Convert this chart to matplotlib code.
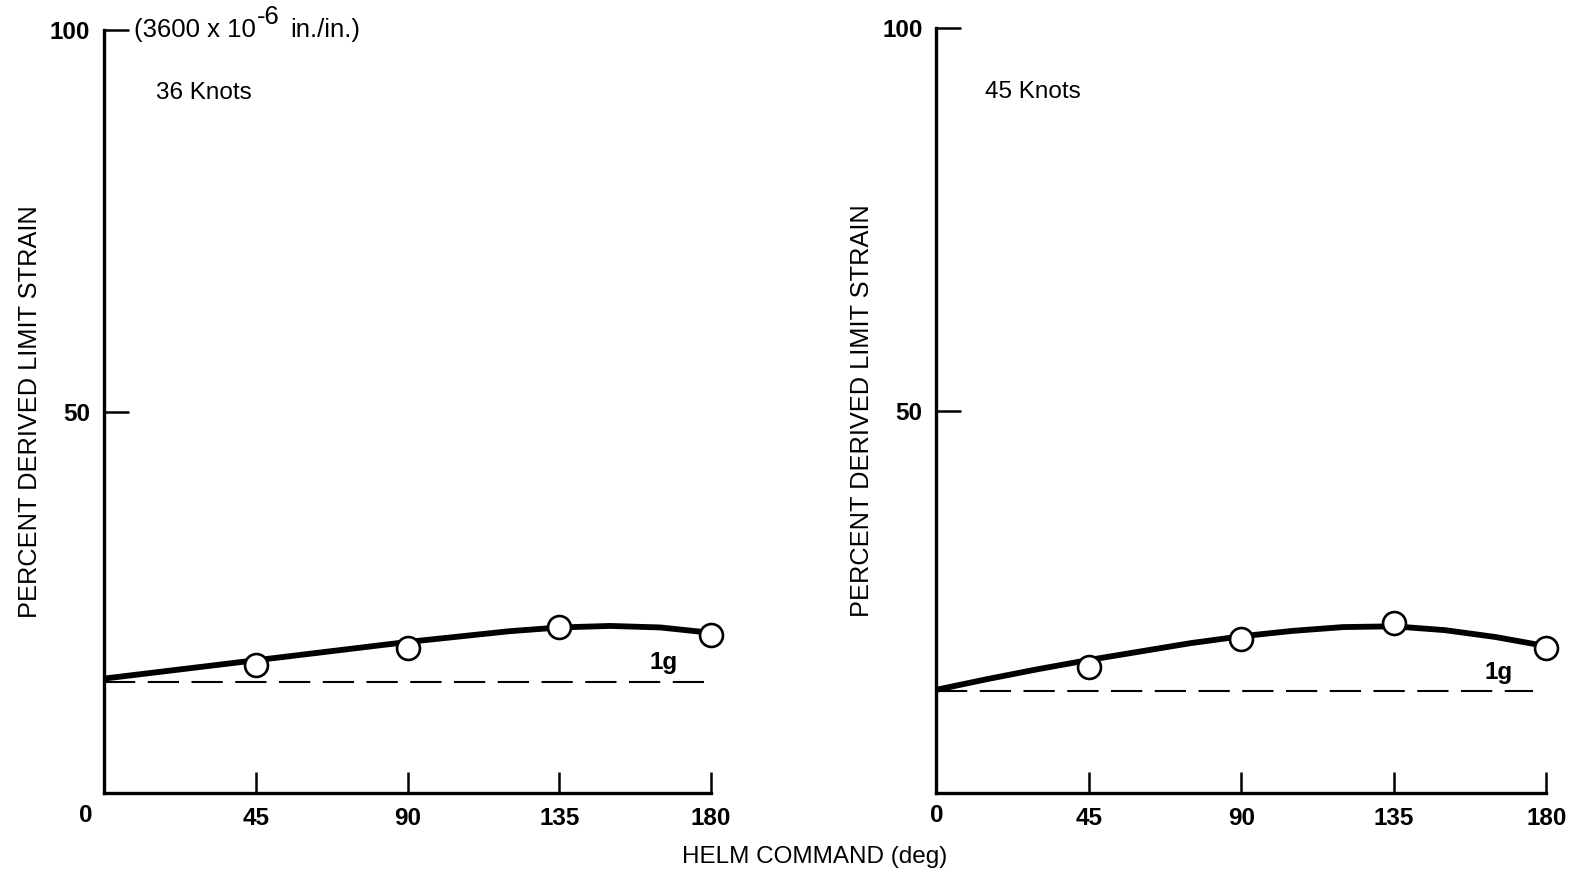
import numpy as np
import matplotlib
matplotlib.use("Agg")
from matplotlib import pyplot as plt

plt.rcParams['font.family'] = ['Liberation Sans', 'DejaVu Sans']

# helm command (deg) for test points and for the faired curve
helm_pts = [45, 90, 135, 180]
helm_curve = [0, 15, 30, 45, 60, 75, 90, 105, 120, 135, 150, 165, 180]

# 36 knots
strain_36 = [16.8, 19.0, 21.7, 20.7]
curve_36 = [15.0, 15.8, 16.6, 17.4, 18.2, 19.0, 19.8, 20.5, 21.2, 21.7, 21.9, 21.7, 21.0]
one_g_36 = 14.6

# 45 knots
strain_45 = [16.5, 20.1, 22.2, 19.0]
curve_45 = [13.5, 14.9, 16.2, 17.4, 18.5, 19.6, 20.5, 21.2, 21.7, 21.8, 21.3, 20.4, 19.2]
one_g_45 = 13.3

xticks = [45, 90, 135, 180]
yticks = [50, 100]

FS = 17.5

fig = plt.figure(figsize=(15.84, 8.73), dpi=100)
ax1 = fig.add_axes([0.0657, 0.0916, 0.3832, 0.874])
ax2 = fig.add_axes([0.5912, 0.0916, 0.3851, 0.876])

panels = [
    (ax1, strain_36, curve_36, one_g_36, '36 Knots', 178, -5.5, 15.5),
    (ax2, strain_45, curve_45, one_g_45, '45 Knots', 176, 0, 14.3),
]

for ax, pts, curve, one_g, title, g_end, zero_x, title_x in panels:
    ax.plot(helm_curve, curve, color='black', lw=4.2, solid_capstyle='round', zorder=2)
    ax.plot([0, g_end], [one_g, one_g], color='black', lw=1.5, dashes=(15, 6), zorder=1)
    ax.plot(helm_pts, pts, 'o', ms=16.5, mfc='white', mec='black', mew=1.9,
            linestyle='none', zorder=3, clip_on=False)
    ax.text(166, one_g + 2.5, '1g', fontsize=FS, fontweight='bold', ha='center', va='center')
    ax.text(title_x, 91.7, title, fontsize=FS, ha='left', va='center')

    ax.set_xlim(0, 180)
    ax.set_ylim(0, 100)
    for side in ['top', 'right']:
        ax.spines[side].set_visible(False)
    for side in ['left', 'bottom']:
        ax.spines[side].set_linewidth(2.4)

    ax.set_xticks(xticks)
    ax.set_xticklabels([str(t) for t in xticks])
    ax.set_yticks(yticks)
    ax.set_yticklabels([str(t) for t in yticks])
    ax.tick_params(axis='x', direction='in', length=15, width=1.8, pad=10, labelsize=FS)
    ax.tick_params(axis='y', direction='in', length=18, width=1.8, pad=10, labelsize=FS)
    for lab in ax.get_xticklabels() + ax.get_yticklabels():
        lab.set_fontweight('bold')
    ax.text(zero_x, -2.9, '0', fontsize=FS, fontweight='bold', ha='center', va='center')

    ax.set_ylabel('PERCENT DERIVED LIMIT STRAIN', fontsize=18.3)

ax1.yaxis.set_label_coords(-0.102, 0.5)
ax2.yaxis.set_label_coords(-0.103, 0.5)

# strain units at the top of the left scale
t1 = ax1.text(8.8, 100, '(3600 x 10', fontsize=18.5, ha='left', va='center')
ax1.annotate('-6', xy=(1, 0.55), xycoords=t1, xytext=(1, 0), textcoords='offset points',
             fontsize=18.5, ha='left', va='bottom')
ax1.annotate('in./in.)', xy=(1, 0), xycoords=t1, xytext=(25, 0),
             textcoords='offset points', fontsize=18.5, ha='left', va='bottom')

fig.text(815 / 1584, 1 - 857 / 873, 'HELM COMMAND (deg)', fontsize=FS, ha='center', va='center')

fig.savefig('out.png', dpi=100)
